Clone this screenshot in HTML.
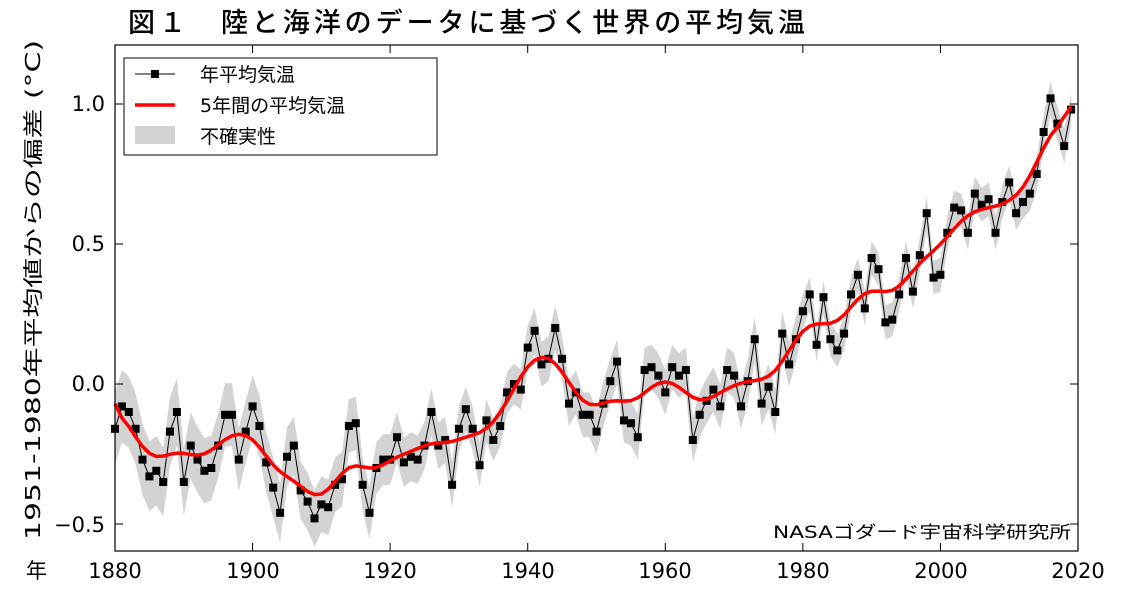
<!DOCTYPE html>
<html><head><meta charset="utf-8"><style>
body{margin:0;background:#fff;}
svg text{font-family:"DejaVu Sans","Noto Sans CJK JP",sans-serif;}
</style></head><body>
<svg id="s" width="1130" height="600" xmlns="http://www.w3.org/2000/svg">
<rect width="1130" height="600" fill="#fff"/>
<text x="128" y="32" font-size="27" textLength="677" lengthAdjust="spacing" style="font-family:'Noto Sans CJK JP',sans-serif;font-weight:500">図１　陸と海洋のデータに基づく世界の平均気温</text>
<g id="plot"></g>
<rect x="115" y="45" width="963" height="506" fill="none" stroke="#000" stroke-width="1.2"/>
<g font-size="21" text-anchor="end">
<text x="105" y="111">1.0</text><text x="105" y="251">0.5</text><text x="105" y="391">0.0</text><text x="105" y="532">−0.5</text>
</g>
<g font-size="21" text-anchor="middle">
<text x="115" y="578">1880</text><text x="253" y="578">1900</text><text x="390" y="578">1920</text><text x="528" y="578">1940</text><text x="665" y="578">1960</text><text x="803" y="578">1980</text><text x="941" y="578">2000</text><text x="1078" y="578">2020</text>
</g>
<text x="26" y="578" font-size="21" style="font-family:'Noto Sans CJK JP',sans-serif">年</text>
<text transform="translate(40,290) rotate(-90)" font-size="20" text-anchor="middle" textLength="500" lengthAdjust="spacingAndGlyphs">1951-1980年平均値からの偏差 (°C)</text>
<text x="1071" y="538" font-size="17" text-anchor="end" textLength="298" lengthAdjust="spacingAndGlyphs">NASAゴダード宇宙科学研究所</text>
<rect x="124" y="58" width="313" height="97" fill="#fff" stroke="#000" stroke-width="1"/>
<line x1="135" y1="74" x2="175" y2="74" stroke="#000" stroke-width="1"/><rect x="151" y="70" width="8" height="8"/>
<line x1="135" y1="105" x2="175" y2="105" stroke="red" stroke-width="3.5"/>
<rect x="135" y="126" width="40" height="18" fill="#d3d3d3"/>
<g font-size="19"><text x="200" y="81">年平均気温</text><text x="200" y="112">5年間の平均気温</text><text x="200" y="143">不確実性</text></g>
</svg>
<script>
var d=[-0.16,-0.08,-0.10,-0.16,-0.27,-0.33,-0.31,-0.35,-0.17,-0.10,-0.35,-0.22,-0.27,-0.31,-0.30,-0.22,-0.11,-0.11,-0.27,-0.17,-0.08,-0.15,-0.28,-0.37,-0.46,-0.26,-0.22,-0.38,-0.42,-0.48,-0.43,-0.44,-0.36,-0.34,-0.15,-0.14,-0.36,-0.46,-0.30,-0.27,-0.27,-0.19,-0.28,-0.26,-0.27,-0.22,-0.10,-0.22,-0.20,-0.36,-0.16,-0.09,-0.16,-0.29,-0.13,-0.20,-0.15,-0.03,0.00,-0.02,0.13,0.19,0.07,0.09,0.20,0.09,-0.07,-0.03,-0.11,-0.11,-0.17,-0.07,0.01,0.08,-0.13,-0.14,-0.19,0.05,0.06,0.03,-0.03,0.06,0.03,0.05,-0.20,-0.11,-0.06,-0.02,-0.08,0.05,0.03,-0.08,0.01,0.16,-0.07,-0.01,-0.10,0.18,0.07,0.16,0.26,0.32,0.14,0.31,0.16,0.12,0.18,0.32,0.39,0.27,0.45,0.41,0.22,0.23,0.32,0.45,0.33,0.46,0.61,0.38,0.39,0.54,0.63,0.62,0.54,0.68,0.64,0.66,0.54,0.65,0.72,0.61,0.65,0.68,0.75,0.90,1.02,0.93,0.85,0.98];
function X(i){return 115+i*963/140;}function Y(v){return 384-v*280;}
var up=[],lo=[];
for(var i=0;i<d.length;i++){var u=i<60?0.13-i*0.001:(i<100?0.08:0.06);up.push(X(i).toFixed(1)+","+Y(d[i]+u).toFixed(1));lo.unshift(X(i).toFixed(1)+","+Y(d[i]-u).toFixed(1));}
var h='<polygon points="'+up.concat(lo).join(" ")+'" fill="#d3d3d3"/>';
var sm=[];for(var i=0;i<d.length;i++){var S=0,Sx=0,Sy=0,Sxx=0,Sxy=0;for(var j=-7;j<=7;j++){var k=i+j;if(k<0||k>=d.length)continue;var w=Math.exp(-j*j/(2*2.3*2.3));S+=w;Sx+=w*j;Sy+=w*d[k];Sxx+=w*j*j;Sxy+=w*j*d[k];}
var den=S*Sxx-Sx*Sx;var b=den?(S*Sxy-Sx*Sy)/den:0;sm.push((Sy-b*Sx)/S);}
sm[0]=-0.07;var n=sm.length;sm[n-1]=0.99;sm[n-2]=Math.max(sm[n-2],0.955);
var ln=d.map(function(v,i){return X(i).toFixed(1)+","+Y(v).toFixed(1)}).join(" ");
h+='<polyline points="'+ln+'" fill="none" stroke="#000" stroke-width="1"/>';
d.forEach(function(v,i){h+='<rect x="'+(X(i)-4).toFixed(1)+'" y="'+(Y(v)-4).toFixed(1)+'" width="8" height="8"/>';});
h+='<polyline points="'+sm.map(function(v,i){return X(i).toFixed(1)+","+Y(v).toFixed(1)}).join(" ")+'" fill="none" stroke="red" stroke-width="3.5" stroke-linejoin="round"/>';
[104,244,384,524].forEach(function(y){h+='<line x1="115" y1="'+y+'" x2="123" y2="'+y+'" stroke="#000"/><line x1="1070" y1="'+y+'" x2="1078" y2="'+y+'" stroke="#000"/>';});
for(var t=0;t<=140;t+=20){var x=X(t);h+='<line x1="'+x+'" y1="551" x2="'+x+'" y2="543" stroke="#000"/><line x1="'+x+'" y1="45" x2="'+x+'" y2="53" stroke="#000"/>';}
document.getElementById("plot").innerHTML=h;
</script>
</body></html>
